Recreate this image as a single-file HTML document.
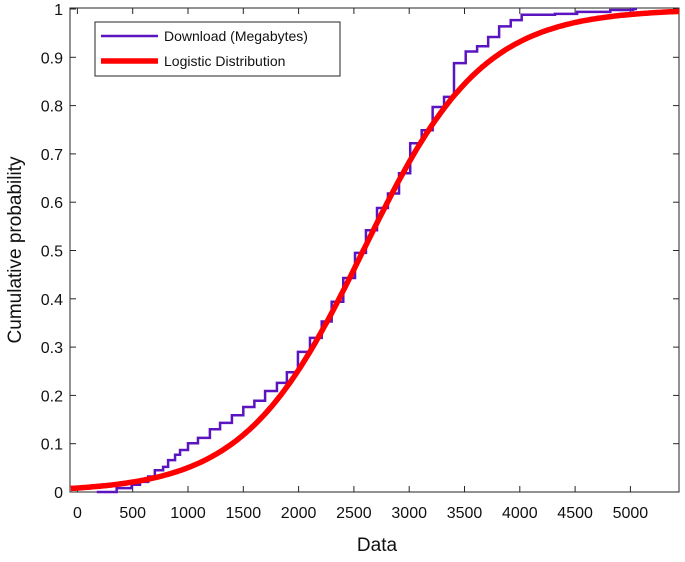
<!DOCTYPE html>
<html><head><meta charset="utf-8">
<style>
html,body{margin:0;padding:0;background:#fff;}
svg text{font-family:"Liberation Sans",Arial,sans-serif;fill:#111;}
</style></head>
<body>
<svg id="chart" width="685" height="557" viewBox="0 0 685 557" xmlns="http://www.w3.org/2000/svg">
<g id="plot"></g>
</svg>
<script>
// Empirical CDF step points (x value where step occurs, cumulative probability after step)
const stepX = [175,355,490,566,640,700,775,820,883,928,1000,1090,1198,1290,1397,1500,1600,1697,1804,1894,1994,2103,2209,2299,2404,2510,2609,2709,2808,2908,3009,3113,3212,3315,3405,3511,3614,3714,3813,3918,4017,4318,4518,4818,5025];
const stepY = [0.0,0.008,0.015,0.021,0.032,0.045,0.052,0.066,0.077,0.087,0.101,0.112,0.130,0.143,0.159,0.176,0.189,0.209,0.226,0.248,0.290,0.319,0.353,0.394,0.443,0.495,0.542,0.588,0.618,0.660,0.722,0.749,0.797,0.818,0.888,0.912,0.923,0.942,0.964,0.977,0.988,0.990,0.994,0.998,1.0];
// Logistic distribution parameters
const logisticMu = [2585];
const logisticS = [540];
const xTicks = [0,500,1000,1500,2000,2500,3000,3500,4000,4500,5000];
const yTicks = [0,0.1,0.2,0.3,0.4,0.5,0.6,0.7,0.8,0.9,1];
const yTickLabels = ["0","0.1","0.2","0.3","0.4","0.5","0.6","0.7","0.8","0.9","1"];

const L=70,R=679,T=8,B=492;
const sx=v=>77.4+v*0.1106;
const sy=v=>492-v*483;
const NS="http://www.w3.org/2000/svg";
const g=document.getElementById('plot');
function mk(tag,attrs){const e=document.createElementNS(NS,tag);for(const k in attrs)e.setAttribute(k,attrs[k]);g.appendChild(e);return e;}

const box=mk('rect',{x:L,y:T,width:R-L,height:B-T,fill:'none',stroke:'#262626','stroke-width':1});



xTicks.forEach(v=>{
  const x=sx(v);
  const t1=mk('line',{x1:x,y1:B,x2:x,y2:B-6,stroke:'#262626'});
  
  
  const t2=mk('line',{x1:x,y1:T,x2:x,y2:T+6,stroke:'#262626'});
  
  
  const tx=mk('text',{x:x,y:518,'text-anchor':'middle','font-size':16});
  tx.textContent=String(v);
  
  
});
yTicks.forEach((v,i)=>{
  const y=sy(v);
  const t1=mk('line',{x1:L,y1:y,x2:L+6,y2:y,stroke:'#262626'});
  
  
  const t2=mk('line',{x1:R,y1:y,x2:R-6,y2:y,stroke:'#262626'});
  
  
  const tx=mk('text',{x:63,y:Math.min(y+6,498),'text-anchor':'end','font-size':16});
  tx.textContent=yTickLabels[i];
  
  
});

let d='M'+sx(stepX[0])+','+sy(stepY[0]);
for(let i=1;i<stepX.length;i++){
  d+=' L'+sx(stepX[i])+','+sy(stepY[i-1])+' L'+sx(stepX[i])+','+sy(stepY[i]);
}
d+=' L'+sx(5060)+','+sy(stepY[stepY.length-1]);
const emp=mk('path',{d:d,fill:'none',stroke:'#5a14c0','stroke-width':2.5});



let d2='';
for(let v=-60;v<=5440;v+=20){
  const F=1/(1+Math.exp(-(v-logisticMu[0])/logisticS[0]));
  d2+=(d2?' L':'M')+sx(v).toFixed(1)+','+sy(F).toFixed(1);
}
const lg=mk('path',{d:d2,fill:'none',stroke:'#ff0000','stroke-width':5.5});


</script>
<svg style="position:absolute;left:0;top:0" width="685" height="557">
  <g>
    <rect x="95" y="22" width="245" height="54" fill="#fff" stroke="#262626" stroke-width="1"/>
    <line x1="101" y1="36" x2="158" y2="36" stroke="#5a14c0" stroke-width="2.5"/>
    <text x="164" y="41" font-size="14" style="font-family:'Liberation Sans',sans-serif">Download (Megabytes)</text>
    <line x1="101" y1="61" x2="158" y2="61" stroke="#ff0000" stroke-width="5.5"/>
    <text x="164" y="66" font-size="14" style="font-family:'Liberation Sans',sans-serif">Logistic Distribution</text>
  </g>
  <text x="377" y="551" font-size="19" text-anchor="middle" style="font-family:'Liberation Sans',sans-serif">Data</text>
  <text transform="translate(21,250) rotate(-90)" font-size="19" text-anchor="middle" style="font-family:'Liberation Sans',sans-serif">Cumulative probability</text>
</svg>
</body></html>
